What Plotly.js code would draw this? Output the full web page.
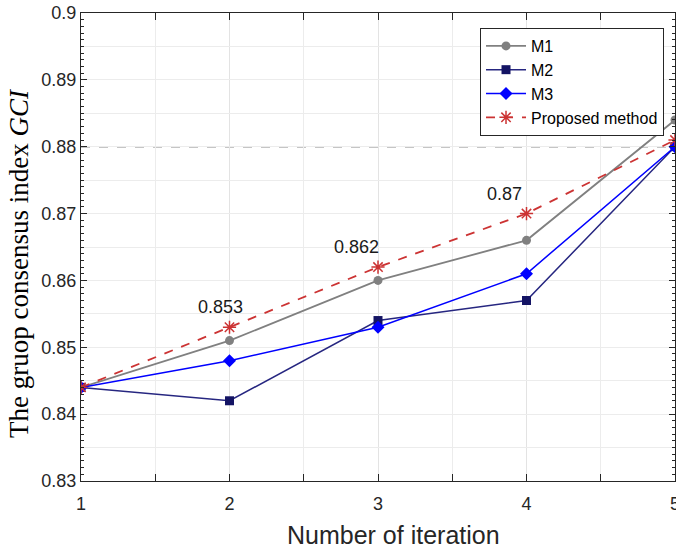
<!DOCTYPE html>
<html><head><meta charset="utf-8">
<script src="https://cdn.plot.ly/plotly-3.0.1.min.js"></script>
<style>body{margin:0;background:#fff}#c{width:676px;height:552px}</style>
</head><body><div id="c"></div>
<script>
const iterations = [1, 2, 3, 4, 5];
const m1 = [0.844, 0.851, 0.860, 0.866, 0.884];
const m2 = [0.844, 0.842, 0.854, 0.857, 0.880];
const m3 = [0.844, 0.848, 0.853, 0.861, 0.880];
const proposed = [0.844, 0.853, 0.862, 0.870, 0.881];
const threshold = 0.88;
const labelIdx = [1, 2, 3];
const labelText = ['0.853', '0.862', '0.87'];
const xTitle = 'Number of iteration';
const yTitle = 'The gruop consensus index <i>GCI</i>';

const traces = [
  {x: iterations, y: m1, name: 'M1', mode: 'lines+markers',
   line: {color: '#808080', width: 1.8}, marker: {symbol: 'circle', size: 9, color: '#808080'}},
  {x: iterations, y: m2, name: 'M2', mode: 'lines+markers',
   line: {color: '#262680', width: 1.5}, marker: {symbol: 'square', size: 9, color: '#141464'}},
  {x: iterations, y: m3, name: 'M3', mode: 'lines+markers',
   line: {color: '#0000ff', width: 1.5}, marker: {symbol: 'diamond', size: 10, color: '#0000ff'}},
  {x: iterations, y: proposed, name: 'Proposed method', mode: 'lines+markers',
   line: {color: '#cc3333', width: 1.8, dash: 'dash'},
   marker: {symbol: 'asterisk-open', size: 11, color: '#cc3333', line: {color: '#cc3333', width: 1.5}}},
  {x: iterations, y: proposed, yaxis: 'y2', mode: 'none', showlegend: false, hoverinfo: 'skip'}
];

const sans = 'Liberation Sans, Arial';
const annotations = labelIdx.map((i, k) => ({
  x: iterations[i], y: proposed[i], text: labelText[k], showarrow: false,
  xanchor: 'center', yanchor: 'bottom', xshift: k === 0 ? -9 : -22, yshift: 8,
  font: {family: sans, size: 18, color: '#1a1a1a'}
}));
annotations.push({xref: 'paper', yref: 'paper', x: 0, y: 0.5, xanchor: 'center', yanchor: 'middle',
  xshift: -62, yshift: -16, textangle: -90, showarrow: false, text: yTitle,
  font: {family: 'Liberation Serif, Times New Roman', size: 27, color: '#000'}});
annotations.push({xref: 'paper', yref: 'paper', x: 0.5, y: 0, xanchor: 'center', yanchor: 'middle',
  xshift: 15, yshift: -54, showarrow: false, text: xTitle,
  font: {family: sans, size: 25, color: '#262626'}});

const layout = {
  width: 676, height: 552,
  margin: {l: 81, r: 1, t: 13, b: 71},
  paper_bgcolor: '#fff', plot_bgcolor: '#fff',
  showlegend: true,
  legend: {x: 0.9815, y: 0.968, xanchor: 'right', yanchor: 'top',
    bgcolor: '#fff', bordercolor: '#262626', borderwidth: 1,
    font: {family: sans, size: 16, color: '#000'},
    tracegroupgap: 0, itemwidth: 40},
  xaxis: {range: [1, 5], dtick: 1, tick0: 1,
    showgrid: true, gridcolor: '#e3e3e3', gridwidth: 1,
    minor: {dtick: 0.5, showgrid: true, gridcolor: '#ececec', ticks: 'inside', ticklen: 7, tickcolor: '#262626'},
    ticks: 'inside', ticklen: 7, tickcolor: '#262626', ticklabeloverflow: 'allow', ticklabelstandoff: 6,
    showline: true, linecolor: '#262626', linewidth: 1.2, mirror: 'ticks', zeroline: false,
    tickfont: {family: sans, size: 18, color: '#262626'}},
  yaxis: {range: [0.83, 0.9], dtick: 0.01, tick0: 0.83, tickformat: '.2~f',
    showgrid: true, gridcolor: '#e3e3e3', gridwidth: 1,
    minor: {dtick: 0.001, showgrid: false, ticks: 'inside', ticklen: 3, tickcolor: '#262626'},
    ticks: 'inside', ticklen: 6, tickcolor: '#262626',
    showline: true, linecolor: '#262626', linewidth: 1.2, mirror: 'ticks', zeroline: false,
    tickfont: {family: sans, size: 18, color: '#262626'}},
  yaxis2: {overlaying: 'y', range: [0.83, 0.9], dtick: 0.005, tick0: 0.83,
    showgrid: true, gridcolor: '#ececec', showticklabels: false, ticks: '',
    showline: false, zeroline: false},
  shapes: [{type: 'line', xref: 'paper', x0: 0, x1: 1, yref: 'y', y0: threshold, y1: threshold,
    line: {color: '#8c8c8c', width: 1.5, dash: 'dash'}, layer: 'below'}],
  annotations: annotations
};

Plotly.newPlot('c', traces, layout, {displayModeBar: false, staticPlot: true});
</script>
</body></html>
